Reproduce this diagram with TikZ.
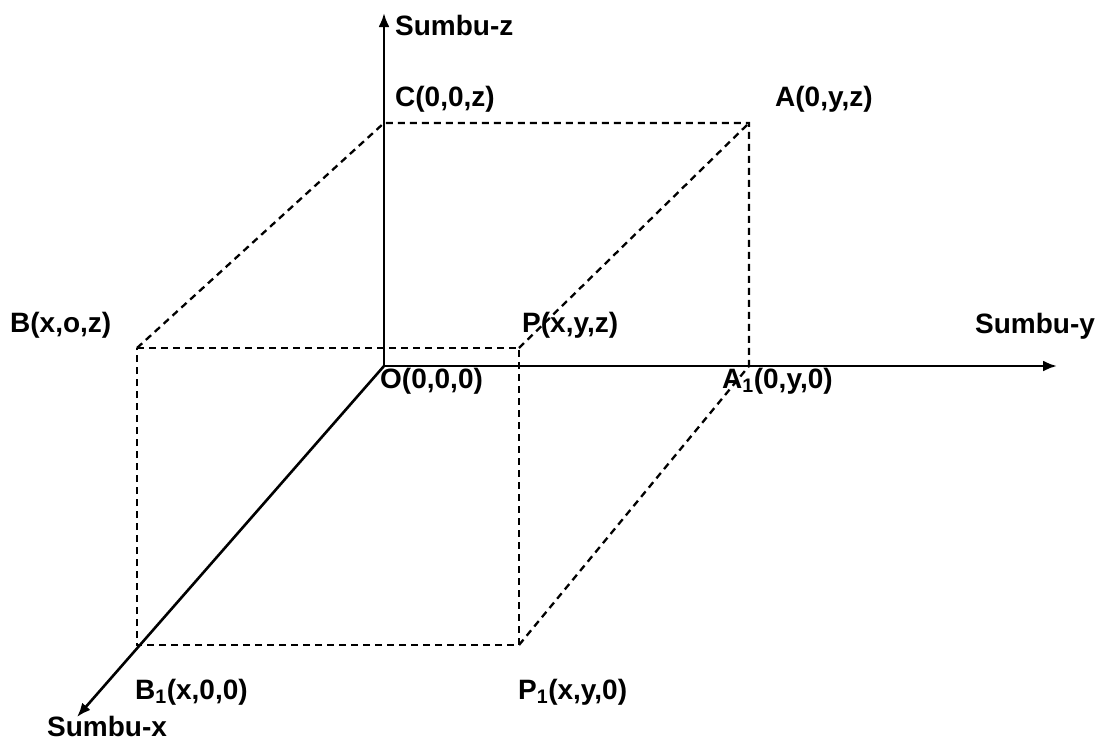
\documentclass[tikz,border=0pt]{standalone}
\usepackage{fontspec}
\setmainfont{Liberation Sans}
\usetikzlibrary{arrows.meta}

\newcommand{\lblfont}{\fontsize{28}{30}\selectfont\bfseries}

\begin{document}
\begin{tikzpicture}[
            x=1pt, y=-1pt,
            axis/.style={line width=2.6pt, -{Latex[length=14pt, width=11pt]}},
            edge/.style={line width=2.3pt, dash pattern=on 7pt off 5pt},
            lbl/.style={font=\lblfont, anchor=base west, inner sep=0pt},
        ]
            \useasboundingbox (0,0) rectangle (1106,742);

            % corner points of the box and ends of the axes
            \foreach \n/\p in {O/{384,366}, C/{384,123}, A/{749,123}, A1/{749,366},
                               B/{137,348}, P/{519,348}, P1/{519,645}, B1/{137,645},
                               zend/{384,13}, yend/{1057,366}, xend/{77,717}}{
                \coordinate (\n) at (\p);
            }

            % the three axes
            \draw[axis] (O) -- (zend);
            \draw[axis] (O) -- (yend);
            \draw[axis] (O) -- (xend);

            % dashed edges of the box
            \draw[edge] (B) -- (P) -- (P1) -- (B1) -- cycle;
            \draw[edge] (B) -- (C) -- (A) -- (A1);
            \draw[edge] (P) -- (A);
            \draw[edge] (P1) -- (A1);

            % point and axis labels
            \foreach \n/\p/\t in {lz/{395,35}/{Sumbu-z}, ly/{975,333}/{Sumbu-y}, lx/{47,736}/{Sumbu-x},
                                  lC/{395,106}/{C(0,0,z)}, lA/{775,106}/{A(0,y,z)},
                                  lB/{10,332}/{B(x,o,z)}, lP/{522,332}/{P(x,y,z)},
                                  lO/{380,388}/{O(0,0,0)}, lA1/{722,388}/{A\textsubscript{1}(0,y,0)},
                                  lB1/{135,699}/{B\textsubscript{1}(x,0,0)}, lP1/{518,699}/{P\textsubscript{1}(x,y,0)}}{
                \node[lbl] (\n) at (\p) {\t};
            }
        \end{tikzpicture}
\end{document}
